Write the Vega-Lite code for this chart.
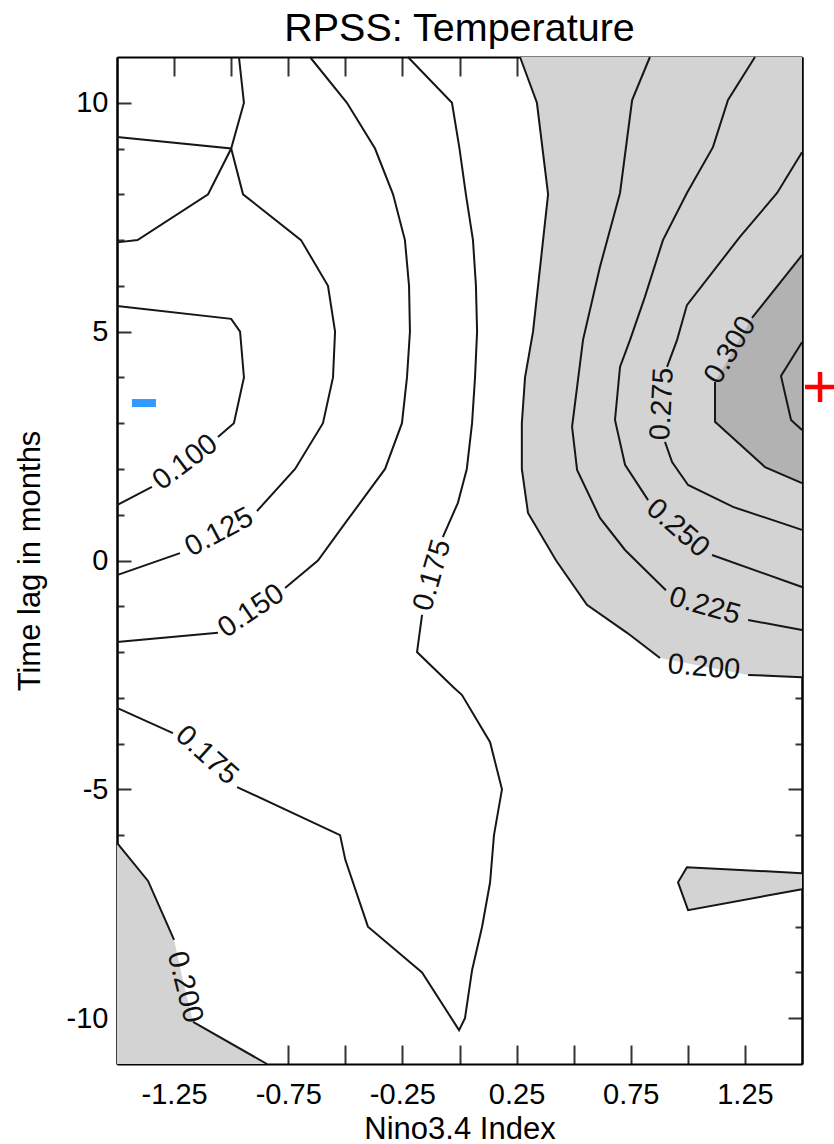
{
  "$schema": "https://vega.github.io/schema/vega-lite/v6.json",
  "width": 685,
  "height": 1007,
  "autosize": {"type": "none"},
  "padding": {"left": 117, "top": 57, "right": 32, "bottom": 80},
  "background": "white",
  "title": {"text": "RPSS: Temperature", "fontSize": 39.5, "fontWeight": "normal", "font": "Liberation Sans", "color": "black", "anchor": "middle", "offset": 4},
  "config": {
    "view": {"stroke": null},
    "font": "Liberation Sans",
    "axis": {
      "grid": false,
      "domainColor": "black",
      "domainWidth": 2,
      "tickColor": "#333333",
      "tickWidth": 2,
      "labelFont": "Liberation Sans",
      "labelFontSize": 29,
      "labelColor": "black",
      "labelOverlap": false,
      "labelFlush": false,
      "titleFont": "Liberation Sans",
      "titleFontSize": 31,
      "titleFontWeight": "normal",
      "titleColor": "black"
    }
  },
  "resolve": {"axis": {"x": "independent", "y": "independent"}},
  "datasets": {
    "polys": [
      {"poly": "p1", "band": "light", "x": -1.5, "y": -6.17},
      {"poly": "p1", "band": "light", "x": -1.364, "y": -7.0},
      {"poly": "p1", "band": "light", "x": -1.25, "y": -8.29},
      {"poly": "p1", "band": "light", "x": -1.21, "y": -9.2},
      {"poly": "p1", "band": "light", "x": -1.167, "y": -10.08},
      {"poly": "p1", "band": "light", "x": -0.843, "y": -11},
      {"poly": "p1", "band": "light", "x": -1.5, "y": -11},
      {"poly": "p2", "band": "light", "x": 0.265, "y": 11},
      {"poly": "p2", "band": "light", "x": 0.339, "y": 10},
      {"poly": "p2", "band": "light", "x": 0.388, "y": 8},
      {"poly": "p2", "band": "light", "x": 0.366, "y": 7},
      {"poly": "p2", "band": "light", "x": 0.344, "y": 6},
      {"poly": "p2", "band": "light", "x": 0.322, "y": 5},
      {"poly": "p2", "band": "light", "x": 0.287, "y": 4},
      {"poly": "p2", "band": "light", "x": 0.273, "y": 3},
      {"poly": "p2", "band": "light", "x": 0.273, "y": 2},
      {"poly": "p2", "band": "light", "x": 0.3, "y": 1.04},
      {"poly": "p2", "band": "light", "x": 0.423, "y": 0},
      {"poly": "p2", "band": "light", "x": 0.558, "y": -0.97},
      {"poly": "p2", "band": "light", "x": 0.734, "y": -1.58},
      {"poly": "p2", "band": "light", "x": 0.878, "y": -2.13},
      {"poly": "p2", "band": "light", "x": 1.264, "y": -2.5},
      {"poly": "p2", "band": "light", "x": 1.5, "y": -2.55},
      {"poly": "p2", "band": "light", "x": 1.5, "y": 11},
      {"poly": "p3", "band": "dark", "x": 1.5, "y": 6.67},
      {"poly": "p3", "band": "dark", "x": 1.281, "y": 5.3},
      {"poly": "p3", "band": "dark", "x": 1.119, "y": 3.9},
      {"poly": "p3", "band": "dark", "x": 1.119, "y": 3.03},
      {"poly": "p3", "band": "dark", "x": 1.338, "y": 2.04},
      {"poly": "p3", "band": "dark", "x": 1.5, "y": 1.69},
      {"poly": "p4", "band": "light", "x": 1.5, "y": -6.83},
      {"poly": "p4", "band": "light", "x": 0.996, "y": -6.7},
      {"poly": "p4", "band": "light", "x": 0.957, "y": -7.03},
      {"poly": "p4", "band": "light", "x": 1.001, "y": -7.64},
      {"poly": "p4", "band": "light", "x": 1.5, "y": -7.18}
    ],
    "lines": [
      {"seg": "a", "x": -0.966, "y": 11},
      {"seg": "a", "x": -0.944, "y": 10},
      {"seg": "a", "x": -1.0, "y": 9},
      {"seg": "a", "x": -1.101, "y": 8},
      {"seg": "a", "x": -1.41, "y": 7},
      {"seg": "a", "x": -1.5, "y": 6.95},
      {"seg": "b1", "x": -1.5, "y": 9.25},
      {"seg": "b1", "x": -1.0, "y": 9.0},
      {"seg": "b1", "x": -0.948, "y": 8},
      {"seg": "b1", "x": -0.694, "y": 7},
      {"seg": "b1", "x": -0.576, "y": 6},
      {"seg": "b1", "x": -0.545, "y": 5},
      {"seg": "b1", "x": -0.554, "y": 4},
      {"seg": "b1", "x": -0.598, "y": 3},
      {"seg": "b1", "x": -0.72, "y": 2},
      {"seg": "b1", "x": -0.887, "y": 1.08},
      {"seg": "b2", "x": -1.224, "y": 0.16},
      {"seg": "b2", "x": -1.5, "y": -0.32},
      {"seg": "c1", "x": -1.5, "y": 5.56},
      {"seg": "c1", "x": -1.0, "y": 5.28},
      {"seg": "c1", "x": -0.961, "y": 5.0},
      {"seg": "c1", "x": -0.944, "y": 4},
      {"seg": "c1", "x": -0.988, "y": 3},
      {"seg": "c1", "x": -1.058, "y": 2.7},
      {"seg": "c2", "x": -1.347, "y": 1.61},
      {"seg": "c2", "x": -1.5, "y": 1.21},
      {"seg": "d1", "x": -0.655, "y": 11},
      {"seg": "d1", "x": -0.493, "y": 10},
      {"seg": "d1", "x": -0.37, "y": 9},
      {"seg": "d1", "x": -0.291, "y": 8},
      {"seg": "d1", "x": -0.239, "y": 7},
      {"seg": "d1", "x": -0.221, "y": 6},
      {"seg": "d1", "x": -0.217, "y": 5},
      {"seg": "d1", "x": -0.23, "y": 4},
      {"seg": "d1", "x": -0.252, "y": 3},
      {"seg": "d1", "x": -0.326, "y": 2},
      {"seg": "d1", "x": -0.5, "y": 0.82},
      {"seg": "d1", "x": -0.62, "y": 0},
      {"seg": "d1", "x": -0.764, "y": -0.6},
      {"seg": "d2", "x": -1.058, "y": -1.58},
      {"seg": "d2", "x": -1.5, "y": -1.78},
      {"seg": "e1", "x": -0.226, "y": 11},
      {"seg": "e1", "x": -0.033, "y": 10},
      {"seg": "e1", "x": 0.0, "y": 9},
      {"seg": "e1", "x": 0.028, "y": 8},
      {"seg": "e1", "x": 0.059, "y": 7},
      {"seg": "e1", "x": 0.072, "y": 6},
      {"seg": "e1", "x": 0.077, "y": 5},
      {"seg": "e1", "x": 0.068, "y": 4},
      {"seg": "e1", "x": 0.055, "y": 3},
      {"seg": "e1", "x": 0.032, "y": 2},
      {"seg": "e1", "x": -0.007, "y": 1.26},
      {"seg": "e1", "x": -0.073, "y": 0.51},
      {"seg": "e2", "x": -0.164, "y": -1.19},
      {"seg": "e2", "x": -0.186, "y": -2.0},
      {"seg": "e2", "x": -0.029, "y": -2.76},
      {"seg": "e2", "x": 0.011, "y": -2.94},
      {"seg": "e2", "x": 0.134, "y": -3.97},
      {"seg": "e2", "x": 0.186, "y": -5.0},
      {"seg": "e2", "x": 0.151, "y": -6.0},
      {"seg": "e2", "x": 0.134, "y": -7.03},
      {"seg": "e2", "x": 0.099, "y": -8.0},
      {"seg": "e2", "x": 0.055, "y": -8.95},
      {"seg": "e2", "x": 0.024, "y": -10.0},
      {"seg": "e2", "x": -0.002, "y": -10.26},
      {"seg": "e2", "x": -0.164, "y": -9.0},
      {"seg": "e2", "x": -0.401, "y": -8.0},
      {"seg": "e2", "x": -0.5, "y": -6.54},
      {"seg": "e2", "x": -0.523, "y": -6.0},
      {"seg": "e2", "x": -0.974, "y": -4.95},
      {"seg": "e3", "x": -1.255, "y": -3.77},
      {"seg": "e3", "x": -1.5, "y": -3.22},
      {"seg": "f1", "x": -1.5, "y": -6.17},
      {"seg": "f1", "x": -1.364, "y": -7.0},
      {"seg": "f1", "x": -1.25, "y": -8.29},
      {"seg": "f2", "x": -1.167, "y": -10.08},
      {"seg": "f2", "x": -0.843, "y": -11},
      {"seg": "g1", "x": 0.265, "y": 11},
      {"seg": "g1", "x": 0.339, "y": 10},
      {"seg": "g1", "x": 0.388, "y": 8},
      {"seg": "g1", "x": 0.366, "y": 7},
      {"seg": "g1", "x": 0.344, "y": 6},
      {"seg": "g1", "x": 0.322, "y": 5},
      {"seg": "g1", "x": 0.287, "y": 4},
      {"seg": "g1", "x": 0.273, "y": 3},
      {"seg": "g1", "x": 0.273, "y": 2},
      {"seg": "g1", "x": 0.3, "y": 1.04},
      {"seg": "g1", "x": 0.423, "y": 0},
      {"seg": "g1", "x": 0.558, "y": -0.97},
      {"seg": "g1", "x": 0.734, "y": -1.58},
      {"seg": "g1", "x": 0.878, "y": -2.13},
      {"seg": "g2", "x": 1.264, "y": -2.5},
      {"seg": "g2", "x": 1.5, "y": -2.55},
      {"seg": "h1", "x": 0.834, "y": 11},
      {"seg": "h1", "x": 0.756, "y": 10.06},
      {"seg": "h1", "x": 0.703, "y": 8.03},
      {"seg": "h1", "x": 0.615, "y": 6.41},
      {"seg": "h1", "x": 0.541, "y": 4.82},
      {"seg": "h1", "x": 0.493, "y": 2.92},
      {"seg": "h1", "x": 0.515, "y": 1.98},
      {"seg": "h1", "x": 0.615, "y": 0.93},
      {"seg": "h1", "x": 0.725, "y": 0.23},
      {"seg": "h1", "x": 0.904, "y": -0.65},
      {"seg": "h2", "x": 1.264, "y": -1.3},
      {"seg": "h2", "x": 1.5, "y": -1.52},
      {"seg": "i1", "x": 1.294, "y": 11},
      {"seg": "i1", "x": 1.176, "y": 10.06},
      {"seg": "i1", "x": 1.11, "y": 9.03},
      {"seg": "i1", "x": 0.996, "y": 8.03},
      {"seg": "i1", "x": 0.891, "y": 7.0},
      {"seg": "i1", "x": 0.812, "y": 5.76},
      {"seg": "i1", "x": 0.747, "y": 4.82},
      {"seg": "i1", "x": 0.703, "y": 4.23},
      {"seg": "i1", "x": 0.681, "y": 3.07},
      {"seg": "i1", "x": 0.725, "y": 2.09},
      {"seg": "i1", "x": 0.826, "y": 1.32},
      {"seg": "i2", "x": 1.106, "y": 0.12},
      {"seg": "i2", "x": 1.5, "y": -0.58},
      {"seg": "j1", "x": 1.5, "y": 8.92},
      {"seg": "j1", "x": 1.391, "y": 8.03},
      {"seg": "j1", "x": 1.228, "y": 7.07},
      {"seg": "j1", "x": 0.996, "y": 5.58},
      {"seg": "j1", "x": 0.953, "y": 4.82},
      {"seg": "j1", "x": 0.909, "y": 4.23},
      {"seg": "j2", "x": 0.9, "y": 2.59},
      {"seg": "j2", "x": 0.931, "y": 2.15},
      {"seg": "j2", "x": 1.001, "y": 1.65},
      {"seg": "j2", "x": 1.198, "y": 1.17},
      {"seg": "j2", "x": 1.5, "y": 0.67},
      {"seg": "k1", "x": 1.5, "y": 6.67},
      {"seg": "k1", "x": 1.281, "y": 5.3},
      {"seg": "k2", "x": 1.119, "y": 3.9},
      {"seg": "k2", "x": 1.119, "y": 3.03},
      {"seg": "k2", "x": 1.338, "y": 2.04},
      {"seg": "k2", "x": 1.5, "y": 1.69},
      {"seg": "l", "x": 1.5, "y": 4.77},
      {"seg": "l", "x": 1.408, "y": 4.03},
      {"seg": "l", "x": 1.452, "y": 3.07},
      {"seg": "l", "x": 1.5, "y": 2.85},
      {"seg": "m", "x": 1.5, "y": -6.83},
      {"seg": "m", "x": 0.996, "y": -6.7},
      {"seg": "m", "x": 0.957, "y": -7.03},
      {"seg": "m", "x": 1.001, "y": -7.64},
      {"seg": "m", "x": 1.5, "y": -7.18}
    ],
    "clabels": [
      {"id": "t1", "text": "0.100", "x": -1.202, "y": 2.15},
      {"id": "t2", "text": "0.125", "x": -1.053, "y": 0.62},
      {"id": "t3", "text": "0.150", "x": -0.913, "y": -1.1},
      {"id": "t4", "text": "0.175", "x": -0.12, "y": -0.32},
      {"id": "t5", "text": "0.175", "x": -1.106, "y": -4.25},
      {"id": "t6", "text": "0.200", "x": -1.202, "y": -9.32},
      {"id": "t7", "text": "0.200", "x": 1.071, "y": -2.33},
      {"id": "t8", "text": "0.225", "x": 1.075, "y": -0.99},
      {"id": "t9", "text": "0.250", "x": 0.957, "y": 0.71},
      {"id": "t10", "text": "0.275", "x": 0.887, "y": 3.42},
      {"id": "t11", "text": "0.300", "x": 1.185, "y": 4.6}
    ],
    "signs": [
      {"kind": "minus", "x": -1.382, "y": 3.44},
      {"kind": "plus", "x": 1.579, "y": 3.79}
    ]
  },
  "layer": [
    {
      "data": {"name": "polys"},
      "mark": {"type": "line", "strokeOpacity": 0, "strokeWidth": 0, "fillOpacity": 1},
      "encoding": {
        "x": {"field": "x", "type": "quantitative", "scale": {"domain": [-1.5, 1.5], "nice": false, "zero": false},
          "axis": {"orient": "bottom", "values": [-1.25, -1, -0.75, -0.5, -0.25, 0, 0.25, 0.5, 0.75, 1, 1.25], "tickSize": -19, "labelPadding": 35,
            "labelExpr": "indexof([-1.25, -0.75, -0.25, 0.25, 0.75, 1.25], datum.value) >= 0 ? toString(datum.value) : ''",
            "title": "Nino3.4 Index", "titlePadding": 5}},
        "y": {"field": "y", "type": "quantitative", "scale": {"domain": [-11, 11], "nice": false, "zero": false},
          "axis": {"orient": "left", "values": [-10, -5, 0, 5, 10], "tickSize": -14, "labelPadding": 23,
            "labelExpr": "toString(datum.value)", "title": "Time lag in months", "titlePadding": 20}},
        "detail": {"field": "poly"},
        "fill": {"field": "band", "type": "nominal", "scale": {"domain": ["light", "dark"], "range": ["#d3d3d3", "#b2b2b2"]}, "legend": null},
        "order": {"value": null}
      }
    },
    {
      "data": {"name": "lines"},
      "mark": {"type": "line", "color": "#161616", "strokeWidth": 2},
      "encoding": {
        "x": {"field": "x", "type": "quantitative", "scale": {"domain": [-1.5, 1.5], "nice": false, "zero": false},
          "axis": {"orient": "top", "values": [-1.25, -1, -0.75, -0.5, -0.25, 0, 0.25, 0.5, 0.75, 1, 1.25], "tickSize": -19, "labels": false, "title": null}},
        "y": {"field": "y", "type": "quantitative", "scale": {"domain": [-11, 11], "nice": false, "zero": false},
          "axis": {"orient": "left", "values": [-9, -8, -7, -6, -4, -3, -2, -1, 1, 2, 3, 4, 6, 7, 8, 9], "tickSize": -7, "labels": false, "title": null}},
        "detail": {"field": "seg"},
        "order": {"value": null}
      }
    },
    {
      "data": {"name": "signs"},
      "transform": [{"filter": "datum.kind === 'minus'"}],
      "mark": {"type": "point", "shape": "M-1,-0.333H1V0.333H-1Z", "filled": true, "size": 576, "color": "#3399ff", "opacity": 1, "strokeWidth": 0},
      "encoding": {
        "x": {"field": "x", "type": "quantitative", "scale": {"domain": [-1.5, 1.5], "nice": false, "zero": false}, "axis": null},
        "y": {"field": "y", "type": "quantitative", "scale": {"domain": [-11, 11], "nice": false, "zero": false},
          "axis": {"orient": "right", "values": [-10, -5, 0, 5, 10], "tickSize": -14, "labels": false, "title": null}}
      }
    },
    {
      "data": {"name": "signs"},
      "transform": [{"filter": "datum.kind === 'plus'"}],
      "mark": {"type": "point", "shape": "M-1,-0.15H1V0.15H-1Z M-0.15,-1H0.15V1H-0.15Z", "filled": true, "size": 900, "color": "#ff0000", "opacity": 1, "strokeWidth": 0},
      "encoding": {
        "x": {"field": "x", "type": "quantitative", "scale": {"domain": [-1.5, 1.5], "nice": false, "zero": false}, "axis": null},
        "y": {"field": "y", "type": "quantitative", "scale": {"domain": [-11, 11], "nice": false, "zero": false},
          "axis": {"orient": "right", "values": [-9, -8, -7, -6, -4, -3, -2, -1, 1, 2, 3, 4, 6, 7, 8, 9], "tickSize": -7, "labels": false, "title": null}}
      }
    },
    {"data": {"name": "clabels"}, "transform": [{"filter": "datum.id === 't1'"}], "mark": {"type": "text", "angle": -37, "fontSize": 29, "font": "Liberation Sans", "color": "#111111", "align": "center", "baseline": "middle"}, "encoding": {"x": {"field": "x", "type": "quantitative", "axis": null}, "y": {"field": "y", "type": "quantitative", "axis": null}, "text": {"field": "text"}}},
    {"data": {"name": "clabels"}, "transform": [{"filter": "datum.id === 't2'"}], "mark": {"type": "text", "angle": -28, "fontSize": 29, "font": "Liberation Sans", "color": "#111111", "align": "center", "baseline": "middle"}, "encoding": {"x": {"field": "x", "type": "quantitative", "axis": null}, "y": {"field": "y", "type": "quantitative", "axis": null}, "text": {"field": "text"}}},
    {"data": {"name": "clabels"}, "transform": [{"filter": "datum.id === 't3'"}], "mark": {"type": "text", "angle": -34, "fontSize": 29, "font": "Liberation Sans", "color": "#111111", "align": "center", "baseline": "middle"}, "encoding": {"x": {"field": "x", "type": "quantitative", "axis": null}, "y": {"field": "y", "type": "quantitative", "axis": null}, "text": {"field": "text"}}},
    {"data": {"name": "clabels"}, "transform": [{"filter": "datum.id === 't4'"}], "mark": {"type": "text", "angle": -74, "fontSize": 29, "font": "Liberation Sans", "color": "#111111", "align": "center", "baseline": "middle"}, "encoding": {"x": {"field": "x", "type": "quantitative", "axis": null}, "y": {"field": "y", "type": "quantitative", "axis": null}, "text": {"field": "text"}}},
    {"data": {"name": "clabels"}, "transform": [{"filter": "datum.id === 't5'"}], "mark": {"type": "text", "angle": 42, "fontSize": 29, "font": "Liberation Sans", "color": "#111111", "align": "center", "baseline": "middle"}, "encoding": {"x": {"field": "x", "type": "quantitative", "axis": null}, "y": {"field": "y", "type": "quantitative", "axis": null}, "text": {"field": "text"}}},
    {"data": {"name": "clabels"}, "transform": [{"filter": "datum.id === 't6'"}], "mark": {"type": "text", "angle": 76, "fontSize": 29, "font": "Liberation Sans", "color": "#111111", "align": "center", "baseline": "middle"}, "encoding": {"x": {"field": "x", "type": "quantitative", "axis": null}, "y": {"field": "y", "type": "quantitative", "axis": null}, "text": {"field": "text"}}},
    {"data": {"name": "clabels"}, "transform": [{"filter": "datum.id === 't7'"}], "mark": {"type": "text", "angle": 5, "fontSize": 29, "font": "Liberation Sans", "color": "#111111", "align": "center", "baseline": "middle"}, "encoding": {"x": {"field": "x", "type": "quantitative", "axis": null}, "y": {"field": "y", "type": "quantitative", "axis": null}, "text": {"field": "text"}}},
    {"data": {"name": "clabels"}, "transform": [{"filter": "datum.id === 't8'"}], "mark": {"type": "text", "angle": 16, "fontSize": 29, "font": "Liberation Sans", "color": "#111111", "align": "center", "baseline": "middle"}, "encoding": {"x": {"field": "x", "type": "quantitative", "axis": null}, "y": {"field": "y", "type": "quantitative", "axis": null}, "text": {"field": "text"}}},
    {"data": {"name": "clabels"}, "transform": [{"filter": "datum.id === 't9'"}], "mark": {"type": "text", "angle": 41, "fontSize": 29, "font": "Liberation Sans", "color": "#111111", "align": "center", "baseline": "middle"}, "encoding": {"x": {"field": "x", "type": "quantitative", "axis": null}, "y": {"field": "y", "type": "quantitative", "axis": null}, "text": {"field": "text"}}},
    {"data": {"name": "clabels"}, "transform": [{"filter": "datum.id === 't10'"}], "mark": {"type": "text", "angle": -87, "fontSize": 29, "font": "Liberation Sans", "color": "#111111", "align": "center", "baseline": "middle"}, "encoding": {"x": {"field": "x", "type": "quantitative", "axis": null}, "y": {"field": "y", "type": "quantitative", "axis": null}, "text": {"field": "text"}}},
    {"data": {"name": "clabels"}, "transform": [{"filter": "datum.id === 't11'"}], "mark": {"type": "text", "angle": -59, "fontSize": 29, "font": "Liberation Sans", "color": "#111111", "align": "center", "baseline": "middle"}, "encoding": {"x": {"field": "x", "type": "quantitative", "axis": null}, "y": {"field": "y", "type": "quantitative", "axis": null}, "text": {"field": "text"}}}
  ]
}
